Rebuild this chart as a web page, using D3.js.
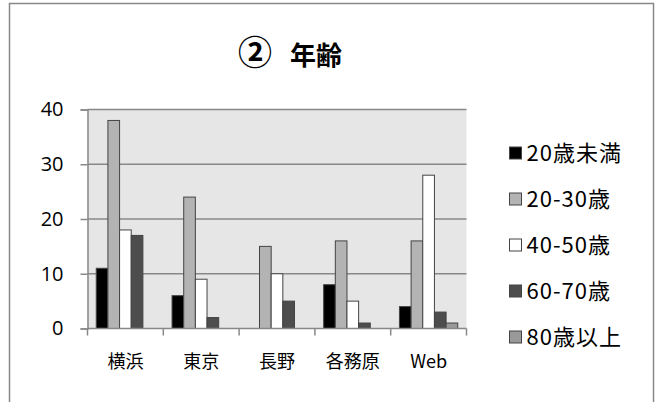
<!DOCTYPE html>
<html>
<head>
<meta charset="utf-8">
<script src="https://cdn.jsdelivr.net/npm/d3@7"></script>
<style>
  body { margin: 0; background: #fff; }
  text { font-family: "Noto Sans CJK JP", "Noto Sans", sans-serif; fill: #000; }
</style>
</head>
<body>
<div id="chart"></div>
<script>
// data
var categories = ["横浜", "東京", "長野", "各務原", "Web"];
var series = ["20歳未満", "20-30歳", "40-50歳", "60-70歳", "80歳以上"];
var under20 = [11, 6, 0, 8, 4];
var age20_30 = [38, 24, 15, 16, 16];
var age40_50 = [18, 9, 10, 5, 28];
var age60_70 = [17, 2, 5, 1, 3];
var over80 = [0, 0, 0, 0, 1];
var yTicks = [0, 10, 20, 30, 40];
var titleMark = "②";
var titleText = "年齢";

var values = [under20, age20_30, age40_50, age60_70, over80];
var fills = ["#000000", "#b3b3b3", "#ffffff", "#4d4d4d", "#999999"];

var W = 659, H = 402;
var plot = { left: 87.5, right: 466.5, top: 109.5, bottom: 328.5 };

var svg = d3.select("#chart").append("svg")
    .attr("width", W)
    .attr("height", H);

// outer chart border
svg.append("rect")
    .attr("x", 9.5).attr("y", 3.5)
    .attr("width", 644).attr("height", 410)
    .attr("fill", "#fff")
    .attr("stroke", "#888")
    .attr("stroke-width", 1.5);

var x = d3.scaleBand()
    .domain(categories)
    .range([plot.left, plot.right]);

// gap width 150% of a bar -> outer padding 0.75 step each side
var xs = d3.scaleBand()
    .domain(series)
    .range([0, x.bandwidth()])
    .paddingInner(0)
    .paddingOuter(0.75);

var y = d3.scaleLinear()
    .domain([0, 40])
    .range([plot.bottom, plot.top]);

// plot area background
svg.append("rect")
    .attr("x", plot.left).attr("y", plot.top)
    .attr("width", plot.right - plot.left)
    .attr("height", plot.bottom - plot.top)
    .attr("fill", "#e6e6e6");

// y axis with gridlines
var yAxis = svg.append("g")
    .attr("transform", "translate(" + plot.left + ",0)")
    .call(d3.axisLeft(y).tickValues(yTicks).tickSize(7).tickPadding(10));
yAxis.select(".domain").attr("stroke", "#888").attr("stroke-width", 1.5);
yAxis.selectAll(".tick line").attr("stroke", "#888").attr("stroke-width", 1.5);
yAxis.selectAll(".tick text")
    .style("font-size", "20px")
    .style("font-family", "'Open Sans', sans-serif")
    .attr("x", -24);

svg.append("g").selectAll("line")
    .data(yTicks.filter(function(d) { return d > 0; }))
    .enter().append("line")
    .attr("x1", plot.left).attr("x2", plot.right)
    .attr("y1", function(d) { return y(d); })
    .attr("y2", function(d) { return y(d); })
    .attr("stroke", "#888")
    .attr("stroke-width", 1.5);

// bars
var groups = svg.append("g").selectAll("g")
    .data(series)
    .enter().append("g")
    .attr("fill", function(d, i) { return fills[i]; });

groups.selectAll("rect")
    .data(function(s, i) {
        return categories.map(function(c, j) { return { cat: c, ser: s, v: values[i][j] }; });
    })
    .enter().filter(function(d) { return d.v > 0; })
    .append("rect")
    .attr("x", function(d) { return x(d.cat) + xs(d.ser); })
    .attr("y", function(d) { return y(d.v); })
    .attr("width", xs.bandwidth())
    .attr("height", function(d) { return y(0) - y(d.v); })
    .attr("stroke", "#444")
    .attr("stroke-width", 1);

// x axis: baseline + ticks at band edges
svg.append("line")
    .attr("x1", plot.left).attr("x2", plot.right)
    .attr("y1", plot.bottom).attr("y2", plot.bottom)
    .attr("stroke", "#888").attr("stroke-width", 1.5);

var edges = categories.map(function(c) { return x(c); }).concat([plot.right]);
svg.append("g").selectAll("line")
    .data(edges)
    .enter().append("line")
    .attr("x1", function(d) { return d; })
    .attr("x2", function(d) { return d; })
    .attr("y1", plot.bottom).attr("y2", plot.bottom + 7)
    .attr("stroke", "#888").attr("stroke-width", 1.5);

svg.append("g").selectAll("text")
    .data(categories)
    .enter().append("text")
    .attr("x", function(d) { return x(d) + x.bandwidth() / 2; })
    .attr("y", 362)
    .attr("dy", "0.35em")
    .attr("text-anchor", "middle")
    .style("font-size", "18px")
    .text(function(d) { return d; });

// title: circled number is drawn a bit larger, like the original
var t = svg.append("text")
    .attr("y", 56)
    .attr("dy", "0.35em")
    .style("font-size", "26px")
    .style("font-weight", "bold");
t.append("tspan")
    .attr("x", 255)
    .attr("text-anchor", "middle")
    .style("font-size", "34px")
    .text(titleMark);
t.append("tspan")
    .attr("x", 316)
    .attr("text-anchor", "middle")
    .style("font-size", "26px")
    .text(titleText);

// legend
var legend = svg.append("g").selectAll("g")
    .data(series)
    .enter().append("g")
    .attr("transform", function(d, i) { return "translate(509.5," + (153 + i * 46) + ")"; });

legend.append("rect")
    .attr("x", 0).attr("y", -6)
    .attr("width", 12).attr("height", 12)
    .attr("fill", function(d, i) { return fills[i]; })
    .attr("stroke", "#444")
    .attr("stroke-width", 1);

legend.append("text")
    .attr("x", 17)
    .attr("y", 0)
    .attr("dy", "0.35em")
    .style("font-size", "22px")
    .style("letter-spacing", "1px")
    .text(function(d) { return d; });
</script>
</body>
</html>
